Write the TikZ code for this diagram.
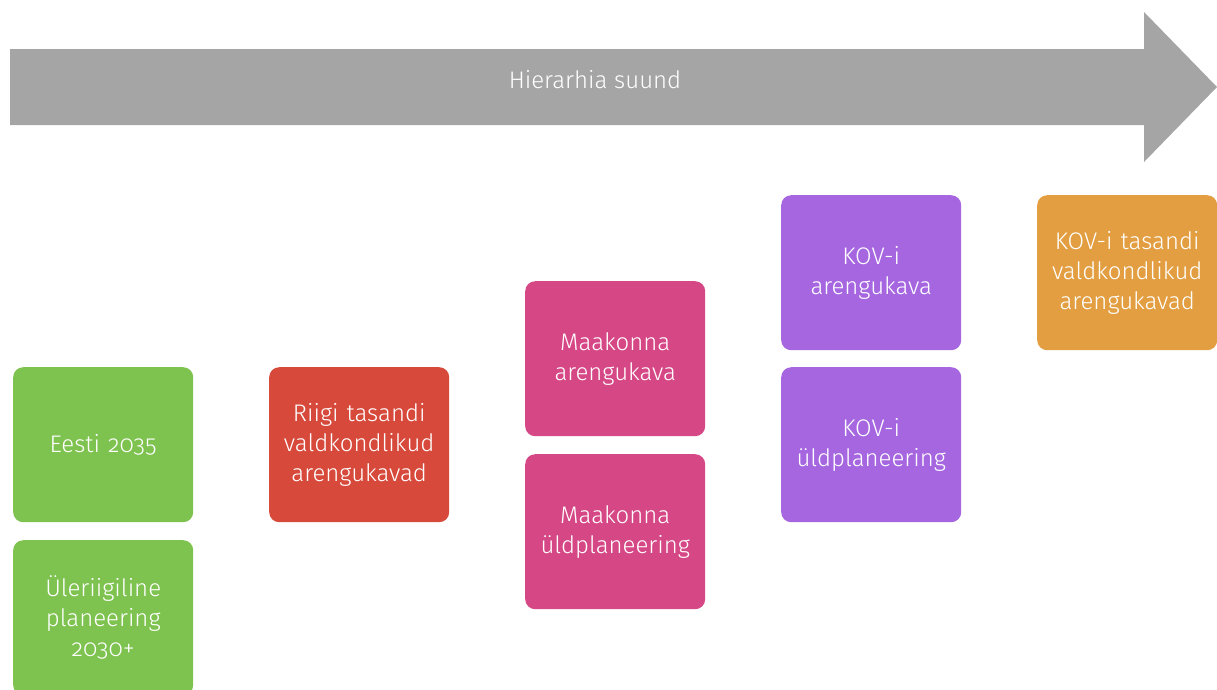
\documentclass[tikz,border=0pt]{standalone}
\usepackage{fontspec}
\setmainfont{Fira Sans Light}[Numbers=OldStyle]
\definecolor{cgray}{HTML}{A5A5A5}
\definecolor{cgreen}{HTML}{7EC24F}
\definecolor{cred}{HTML}{D6493B}
\definecolor{cpink}{HTML}{D54785}
\definecolor{cpurple}{HTML}{A566E0}
\definecolor{corange}{HTML}{E29E40}
\tikzset{
  box/.style={rounded corners=10pt, minimum width=180pt, minimum height=155pt, anchor=north west,
    text=white, font=\fontsize{24}{30}\selectfont, align=center, inner sep=0pt, text width=176pt},
}
\begin{document}
\begin{tikzpicture}[x=1pt,y=-1pt]
\useasboundingbox (0,0) rectangle (1217,689);
\clip (0,0) rectangle (1217,689);
\fill[cgray] (10,49) -- (1144,49) -- (1144,12) -- (1217,87) -- (1144,162) -- (1144,125) -- (10,125) -- cycle;
\node[text=white, font=\fontsize{24}{28}\selectfont] (arrowlabel) at (595,80) {Hierarhia suund};
\node[box, fill=cgreen] (eesti) at (13,367) {Eesti 2035};
\node[box, fill=cgreen] (ule) at (13,540) {Üleriigiline\\planeering\\2030+};
\node[box, fill=cred] (riigi) at (269,367) {Riigi tasandi\\valdkondlikud\\arengukavad};
\node[box, fill=cpink] (maak1) at (525,281) {Maakonna\\arengukava};
\node[box, fill=cpink] (maak2) at (525,454) {Maakonna\\üldplaneering};
\node[box, fill=cpurple] (kov1) at (781,195) {KOV-i\\arengukava};
\node[box, fill=cpurple] (kov2) at (781,367) {KOV-i\\üldplaneering};
\node[box, fill=corange] (kov3) at (1037,195) {KOV-i tasandi\\valdkondlikud\\arengukavad};
\end{tikzpicture}
\end{document}
